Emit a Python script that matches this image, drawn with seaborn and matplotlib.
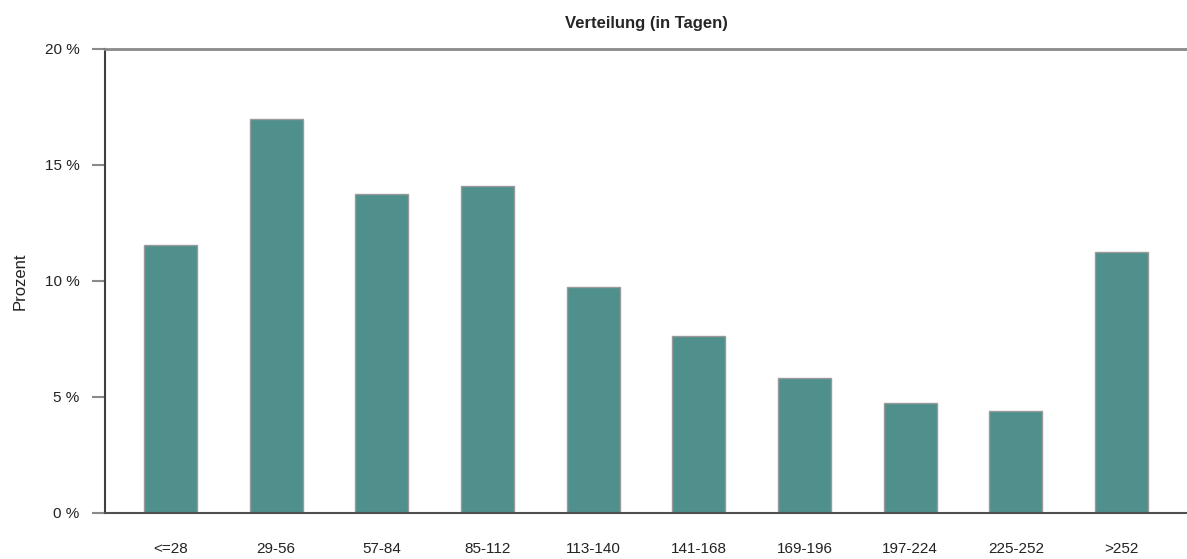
import matplotlib
matplotlib.use("Agg")
import matplotlib.pyplot as plt
import seaborn as sns
import pandas as pd

categories = ["<=28", "29-56", "57-84", "85-112", "113-140", "141-168",
              "169-196", "197-224", "225-252", ">252"]
prozent = [11.57, 17.0, 13.76, 14.1, 9.76, 7.61, 5.81, 4.73, 4.39, 11.23]
y_ticks = [0, 5, 10, 15, 20]
y_tick_labels = ["0 %", "5 %", "10 %", "15 %", "20 %"]

df = pd.DataFrame({"Tage": categories, "Prozent": prozent})

sns.set_theme(style="white")
plt.rcParams["font.family"] = ["Liberation Sans", "DejaVu Sans"]

fig = plt.figure(figsize=(11.87, 5.59), dpi=100)
ax = fig.add_axes([105 / 1187, 1 - 513 / 559, 1 - 105 / 1187, (513 - 49) / 559])

sns.barplot(data=df, x="Tage", y="Prozent", color="#4f8f8c", saturation=1,
            width=0.5, edgecolor="#9a9a9a", linewidth=1.0, ax=ax)

ax.set_xlim(-0.62, 9.62)
ax.set_ylim(0, 20)
ax.set_yticks(y_ticks)
ax.set_yticklabels(y_tick_labels, fontsize=11, color="#222222")
ax.tick_params(axis="y", left=True, length=9.4, width=1.5, color="#8a8a8a", pad=9)
ax.tick_params(axis="x", bottom=False, labelsize=11, labelcolor="#222222", pad=15)

ax.spines["right"].set_visible(False)
ax.spines["left"].set_color("#404040")
ax.spines["left"].set_linewidth(1.5)
ax.spines["bottom"].set_color("#505050")
ax.spines["bottom"].set_linewidth(1.5)
ax.spines["top"].set_color("#8a8a8a")
ax.spines["top"].set_linewidth(2)

ax.set_xlabel("")
ax.set_ylabel("Prozent", fontsize=12, color="#222222", labelpad=12)
ax.set_title("Verteilung (in Tagen)", fontsize=12, fontweight="bold", pad=15)

fig.savefig("out.png", dpi=100)
